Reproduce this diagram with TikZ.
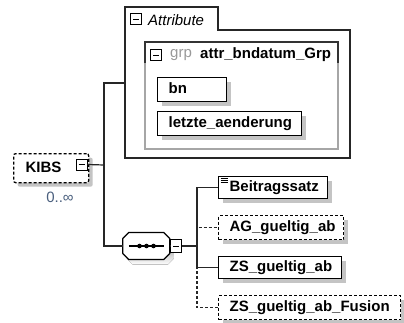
\documentclass[tikz,border=0pt]{standalone}
\usepackage{fontspec}
\setmainfont{Liberation Sans}
\usetikzlibrary{shadows}
\definecolor{shade}{HTML}{C4C4C4}
\definecolor{occ}{HTML}{4A5F7E}
\newcommand{\lbox}[2]{\makebox[#1][l]{#2}}
\tikzset{
  conn/.style={line width=1.2pt, draw=black!85},
  elem/.style={draw=black, line width=1.3pt, fill=white, anchor=north west,
    inner xsep=11pt, inner ysep=0pt,
    font=\bfseries\fontsize{15}{18}\selectfont, text height=11pt, text depth=3pt,
    drop shadow={shadow xshift=4pt, shadow yshift=-4pt, fill=shade, opacity=1}},
  optional/.style={dash pattern=on 3pt off 2pt},
  icon/.style={draw=black, line width=1pt, fill=white, minimum width=11pt, minimum height=11pt, inner sep=0pt,
    path picture={\draw[line width=1pt] ([xshift=2.5pt]path picture bounding box.west) -- ([xshift=-2.5pt]path picture bounding box.east);}},
}
\begin{document}
\begin{tikzpicture}[x=1pt,y=-1pt]
\useasboundingbox[fill=white] (0,0) rectangle (404,322);

% Attribute container
\draw[line width=1.4pt, draw=black!85] (125,158) -- (125,7) -- (218,7) -- (218,30) -- (350,30) -- (350,158) -- cycle;
\node[icon] (attricon) at (136,19) {};
\node[anchor=west, inner sep=0pt, font=\itshape\fontsize{15}{18}\selectfont] (attrlabel) at (148,20) {Attribute};
\coordinate (attrin) at (125,83);

% Group box
\draw[line width=1.2pt, draw=black!35] (145,63) -- (145,149) -- (338,149) -- (338,63);
\draw[line width=1.4pt, draw=black!80] (145,63) -- (145,42) -- (338,42) -- (338,63);
\node[icon] (grpicon) at (156,55) {};
\node[anchor=west, inner sep=0pt, text=black!40, font=\fontsize{15}{18}\selectfont] (grplabel) at (170,55) {grp};
\node[anchor=west, inner sep=0pt, font=\bfseries\fontsize{15}{18}\selectfont] (grpname) at (200,55) {attr\_bndatum\_Grp};

\node[elem, minimum height=24pt] (bn) at (157,77) {\lbox{47pt}{bn}};
\node[elem, minimum height=24pt] (letzte) at (157,111) {\lbox{122pt}{letzte\_aenderung}};

% KIBS
\node[elem, optional, rounded corners=2pt, minimum height=29pt, inner xsep=12pt] (kibs) at (13,153) {\lbox{51pt}{KIBS}};
\node[icon] (kibsicon) at (81.5,164.5) {};
\node[inner sep=0pt, text=occ, font=\fontsize{15}{18}\selectfont] (occur) at (60,197) {0..∞};

% trunk
\coordinate (jn) at (104,165);
\draw[conn] (kibsicon.east) -- (jn);
\draw[conn] (jn) |- (attrin);

% sequence compositor
\node[minimum width=47pt, minimum height=27pt, inner sep=0pt] (seq) at (146.5,246) {};
\fill[shade] ([shift={(4pt,-5pt)}]seq.west) -- ++(0,7.5pt) -- ++(6pt,6pt) -- ++(35pt,0) -- ++(6pt,-6pt) -- ++(0,-15pt) -- ++(-6pt,-6pt) -- ++(-35pt,0) -- ++(-6pt,6pt) -- cycle;
\draw[line width=1.3pt, fill=white, line join=round] (seq.west) -- ++(0,7.5pt) -- ++(6pt,6pt) -- ++(35pt,0) -- ++(6pt,-6pt) -- ++(0,-15pt) -- ++(-6pt,-6pt) -- ++(-35pt,0) -- ++(-6pt,6pt) -- cycle;
\draw[line width=1.2pt] ([xshift=6pt]seq.west) -- ([xshift=-6pt]seq.east);
\fill ([xshift=-7pt]seq.center) circle (2.3pt) (seq.center) circle (2.3pt) ([xshift=7pt]seq.center) circle (2.3pt);
\node[icon, minimum width=11pt, minimum height=13pt] (seqicon) at (176,246) {};
\draw[conn] (jn) |- (seq.west);
\draw[conn] (seq.east) -- (seqicon.west);

% children
\node[elem, minimum height=22pt] (beitrag) at (218,176) {\lbox{87pt}{Beitragssatz}};
\draw[line width=0.8pt] ([xshift=2.5pt,yshift=-2pt]beitrag.north west) -- +(7pt,0)
  ([xshift=2.5pt,yshift=-4.2pt]beitrag.north west) -- +(7pt,0)
  ([xshift=2.5pt,yshift=-6.4pt]beitrag.north west) -- +(7pt,0);
\node[elem, optional, minimum height=24pt] (ag) at (218,215) {\lbox{103pt}{AG\_gueltig\_ab}};
\node[elem, minimum height=22pt] (zs) at (218,256) {\lbox{101pt}{ZS\_gueltig\_ab}};
\node[elem, optional, minimum height=24pt] (fusion) at (218,295) {\lbox{160pt}{ZS\_gueltig\_ab\_Fusion}};

\coordinate (bus) at (197,246);
\draw[conn] (seqicon.east) -- (bus);
\draw[conn] (bus) |- (beitrag.west);
\draw[conn] (bus) |- (zs.west);
\draw[conn, optional] (bus) |- (ag.west);
\draw[conn, optional] (bus) |- (fusion.west);
\end{tikzpicture}
\end{document}
